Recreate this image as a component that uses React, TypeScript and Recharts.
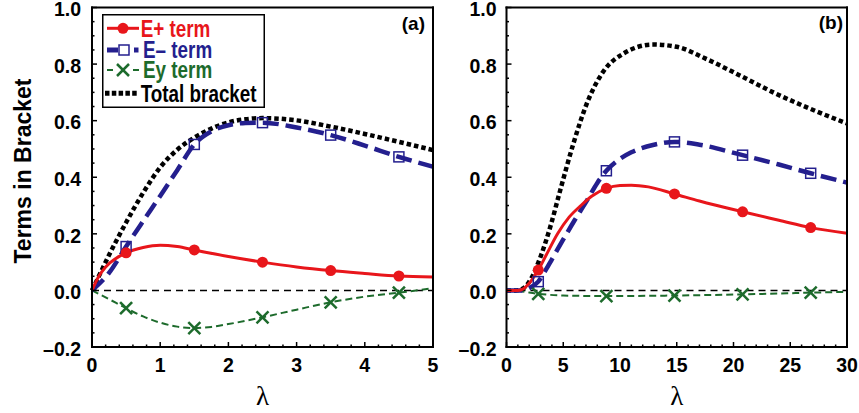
import React from 'react';
import { ComposedChart, Line, Scatter, XAxis, YAxis, ReferenceLine, Legend } from 'recharts';

type Pt = [number, number];

// panel (a), lambda 0..5
const aRedCurve: Pt[] = [[0, 0], [0.1, 0.05], [0.2, 0.083], [0.35, 0.113], [0.5, 0.133], [0.75, 0.152], [1.0, 0.16], [1.25, 0.155], [1.5, 0.143], [2.0, 0.12], [2.5, 0.1], [3.0, 0.083], [3.5, 0.07], [4.0, 0.06], [4.5, 0.051], [5.0, 0.047]];
const aBlueCurve: Pt[] = [[0, 0], [0.25, 0.062], [0.5, 0.155], [0.75, 0.245], [1.0, 0.334], [1.25, 0.425], [1.5, 0.516], [1.75, 0.562], [2.0, 0.584], [2.25, 0.592], [2.5, 0.593], [3.0, 0.576], [3.5, 0.549], [4.0, 0.512], [4.5, 0.472], [5.0, 0.437]];
const aTotalCurve: Pt[] = [[0, 0], [0.1, 0.05], [0.25, 0.125], [0.5, 0.24], [0.75, 0.345], [1.0, 0.435], [1.25, 0.497], [1.5, 0.54], [1.75, 0.572], [2.0, 0.594], [2.25, 0.605], [2.5, 0.609], [2.75, 0.607], [3.0, 0.601], [3.5, 0.579], [4.0, 0.553], [4.5, 0.525], [5.0, 0.496]];
const aGreenCurve: Pt[] = [[0, 0], [0.25, -0.031], [0.5, -0.063], [0.75, -0.092], [1.0, -0.114], [1.25, -0.128], [1.5, -0.133], [1.75, -0.129], [2.0, -0.119], [2.5, -0.095], [3.0, -0.068], [3.5, -0.042], [4.0, -0.022], [4.5, -0.008], [5.0, 0.008]];
const aRedMarks: Pt[] = [[0.5, 0.133], [1.5, 0.143], [2.5, 0.1], [3.5, 0.07], [4.5, 0.051]];
const aBlueMarks: Pt[] = [[0.5, 0.155], [1.5, 0.516], [2.5, 0.593], [3.5, 0.549], [4.5, 0.472]];
const aGreenMarks: Pt[] = [[0.5, -0.063], [1.5, -0.133], [2.5, -0.095], [3.5, -0.042], [4.5, -0.008]];

// panel (b), lambda 0..30
const bRedCurve: Pt[] = [[0, 0], [1, 0], [1.5, 0.006], [2, 0.025], [2.8, 0.072], [3.5, 0.125], [4.5, 0.2], [5.5, 0.258], [6.5, 0.298], [7.5, 0.333], [8.8, 0.361], [10, 0.371], [11, 0.372], [12.5, 0.366], [14.8, 0.341], [17, 0.316], [20.8, 0.278], [24, 0.248], [26.8, 0.222], [30, 0.202]];
const bBlueCurve: Pt[] = [[0, 0], [1.5, 0], [2, 0.008], [2.8, 0.031], [3.5, 0.075], [4.0, 0.11], [5.0, 0.18], [6.0, 0.248], [7.0, 0.312], [8.0, 0.38], [8.8, 0.423], [10, 0.465], [11, 0.488], [12.9, 0.514], [14.8, 0.525], [17, 0.515], [20.8, 0.478], [24, 0.445], [26.8, 0.414], [30, 0.381]];
const bTotalCurve: Pt[] = [[0, 0], [0.8, 0], [1.5, 0.008], [2.1, 0.037], [3, 0.119], [3.86, 0.225], [4.74, 0.355], [5.9, 0.52], [7.08, 0.661], [8.5, 0.772], [10.3, 0.837], [12.9, 0.869], [15, 0.861], [17.5, 0.82], [20.8, 0.755], [23.5, 0.7], [26.7, 0.643], [30, 0.59]];
const bGreenCurve: Pt[] = [[0, 0], [1, -0.002], [2.8, -0.012], [5, -0.018], [8.8, -0.02], [14.8, -0.018], [20.8, -0.014], [26.8, -0.008], [30, -0.005]];
const bRedMarks: Pt[] = [[2.8, 0.072], [8.8, 0.361], [14.8, 0.341], [20.8, 0.278], [26.8, 0.222]];
const bBlueMarks: Pt[] = [[2.8, 0.031], [8.8, 0.423], [14.8, 0.525], [20.8, 0.478], [26.8, 0.414]];
const bGreenMarks: Pt[] = [[2.8, -0.012], [8.8, -0.02], [14.8, -0.018], [20.8, -0.014], [26.8, -0.008]];

// ticks (minor + major)
const aXTicks = [0, 0.2, 0.4, 0.6, 0.8, 1, 1.2, 1.4, 1.6, 1.8, 2, 2.2, 2.4, 2.6, 2.8, 3, 3.2, 3.4, 3.6, 3.8, 4, 4.2, 4.4, 4.6, 4.8, 5];
const bXTicks = [0, 1, 2, 3, 4, 5, 6, 7, 8, 9, 10, 11, 12, 13, 14, 15, 16, 17, 18, 19, 20, 21, 22, 23, 24, 25, 26, 27, 28, 29, 30];
const yTicks = [-0.2, -0.15, -0.1, -0.05, 0, 0.05, 0.1, 0.15, 0.2, 0.25, 0.3, 0.35, 0.4, 0.45, 0.5, 0.55, 0.6, 0.65, 0.7, 0.75, 0.8, 0.85, 0.9, 0.95, 1.0];

const legendLabels = ['E+ term', 'E\u2013 term', 'Ey term', 'Total bracket'];

const RED = '#e8161b';
const BLUE = '#241f8e';
const GREEN = '#1d6b2c';
const SANS = "'Liberation Sans', Arial, sans-serif";

const pts = (a: Pt[]) => a.map(([x, y]) => ({ x, y }));

const isMajor = (v: number, step: number) => Math.abs(v / step - Math.round(v / step)) < 1e-6;

function FrameTick(props: any) {
  const { x, y, payload, side, step, showText, gap } = props;
  const v = payload.value;
  const major = isMajor(v, step);
  const len = major ? 5 : 2.5;
  let x2 = x;
  let y2 = y;
  if (side === 'bottom') y2 = y - len;
  if (side === 'top') y2 = y + len;
  if (side === 'left') x2 = x + len;
  if (side === 'right') x2 = x - len;
  const txt = { fontFamily: SANS, fontWeight: 700, fontSize: 19.5, fill: '#000' };
  return (
    <g>
      <line x1={x} y1={y} x2={x2} y2={y2} stroke="#000" strokeWidth={1.5} />
      {showText && major && side === 'bottom' && (
        <text x={x} y={y + 25} textAnchor="middle" {...txt}>{String(Math.round(v))}</text>
      )}
      {showText && major && side === 'left' && (
        <text x={x - gap} y={y} dy="0.45em" textAnchor="end" {...txt}>
          {v < 0 ? '\u2013' + Math.abs(v).toFixed(1) : v.toFixed(1)}
        </text>
      )}
    </g>
  );
}

const Dot = (color: string) => (p: any) => <circle cx={p.cx} cy={p.cy} r={5.5} fill={color} />;
const Box = (color: string) => (p: any) => (
  <rect x={p.cx - 5} y={p.cy - 5} width={10} height={10} fill="none" stroke={color} strokeWidth={1.5} />
);
const Cross = (color: string) => (p: any) => (
  <g stroke={color} strokeWidth={2.5}>
    <line x1={p.cx - 6} y1={p.cy - 6} x2={p.cx + 6} y2={p.cy + 6} />
    <line x1={p.cx - 6} y1={p.cy + 6} x2={p.cx + 6} y2={p.cy - 6} />
  </g>
);

function LegendBox() {
  const t = (x: number, y: number, color: string, s: string) => (
    <text transform={`translate(${x},${y}) scale(0.82,1)`} fontFamily={SANS} fontWeight={700} fontSize={23} fill={color}>
      {s}
    </text>
  );
  return (
    <svg width={163} height={94} style={{ display: 'block' }}>
      <rect x={0.75} y={0.75} width={161.5} height={92.5} fill="#fff" stroke="#000" strokeWidth={1.5} />
      <line x1={5} y1={14.3} x2={37} y2={14.3} stroke={RED} strokeWidth={3} />
      <circle cx={21} cy={14.3} r={5.5} fill={RED} />
      {t(38.7, 22.5, RED, legendLabels[0])}
      <line x1={5} y1={36} x2={16} y2={36} stroke={BLUE} strokeWidth={5} />
      <rect x={17} y={31} width={10} height={10} fill="none" stroke={BLUE} strokeWidth={1.5} />
      <line x1={32} y1={36} x2={36.5} y2={36} stroke={BLUE} strokeWidth={5} />
      {t(41, 44.2, BLUE, legendLabels[1])}
      <line x1={5} y1={56} x2={11} y2={56} stroke={GREEN} strokeWidth={2} />
      <line x1={15} y1={50} x2={27} y2={62} stroke={GREEN} strokeWidth={2.5} />
      <line x1={15} y1={62} x2={27} y2={50} stroke={GREEN} strokeWidth={2.5} />
      <line x1={31} y1={56} x2={37} y2={56} stroke={GREEN} strokeWidth={2} />
      {t(41, 64.2, GREEN, legendLabels[2])}
      <line x1={3} y1={79.3} x2={35} y2={79.3} stroke="#000" strokeWidth={5} strokeDasharray="4.5 2.3" />
      {t(38.7, 87.5, '#000', legendLabels[3])}
    </svg>
  );
}

interface PanelProps {
  left: number;
  width: number;
  yAxisWidth: number;
  marginRight: number;
  domainX: [number, number];
  xTicks: number[];
  xStep: number;
  red: Pt[];
  blue: Pt[];
  total: Pt[];
  green: Pt[];
  redMarks: Pt[];
  blueMarks: Pt[];
  greenMarks: Pt[];
  tag: string;
  tagX: number;
  tagY: number;
  labelGap: number;
  showTitle?: boolean;
  showLegend?: boolean;
}

function Panel(p: PanelProps) {
  const plotLeft = p.yAxisWidth;
  const plotRight = p.width - p.marginRight - 1;
  const lambdaX = (plotLeft + plotRight) / 2;
  const axisLine = { stroke: '#000', strokeWidth: 2, strokeLinecap: 'square' as const };
  return (
    <div style={{ position: 'absolute', left: p.left, top: 0 }}>
      <ComposedChart width={p.width} height={413} margin={{ top: 6.5, right: p.marginRight, bottom: 0, left: 0 }}>
        <XAxis
          xAxisId={0}
          dataKey="x"
          type="number"
          domain={p.domainX}
          ticks={p.xTicks}
          interval={0}
          height={66}
          tickSize={0}
          tickMargin={0}
          tickLine={false}
          axisLine={axisLine}
          tick={(t: any) => <FrameTick {...t} side="bottom" step={p.xStep} showText />}
          label={{
            content: () => (
              <text x={lambdaX} y={405} textAnchor="middle" fontFamily="'Liberation Serif', serif" fontSize={27} fill="#000">
                λ
              </text>
            ),
          }}
        />
        <XAxis
          xAxisId="t"
          orientation="top"
          dataKey="x"
          type="number"
          domain={p.domainX}
          ticks={p.xTicks}
          interval={0}
          height={1}
          tickSize={0}
          tickMargin={0}
          tickLine={false}
          axisLine={axisLine}
          tick={(t: any) => <FrameTick {...t} side="top" step={p.xStep} />}
          label={{
            content: () => (
              <text x={p.tagX} y={p.tagY} textAnchor="end" fontFamily={SANS} fontWeight={700} fontSize={19} fill="#000">
                {p.tag}
              </text>
            ),
          }}
        />
        <YAxis
          yAxisId={0}
          dataKey="y"
          type="number"
          domain={[-0.2, 1.0]}
          ticks={yTicks}
          interval={0}
          width={p.yAxisWidth}
          tickSize={0}
          tickMargin={0}
          tickLine={false}
          axisLine={axisLine}
          tick={(t: any) => <FrameTick {...t} side="left" step={0.2} showText gap={p.labelGap} />}
          label={
            p.showTitle
              ? {
                  content: () => (
                    <text
                      transform="translate(31,171) rotate(-90)"
                      textAnchor="middle"
                      fontFamily={SANS}
                      fontWeight={700}
                      fontSize={23}
                      fill="#000"
                    >
                      Terms in Bracket
                    </text>
                  ),
                }
              : undefined
          }
        />
        <YAxis
          yAxisId="r"
          orientation="right"
          type="number"
          domain={[-0.2, 1.0]}
          ticks={yTicks}
          interval={0}
          width={1}
          tickSize={0}
          tickMargin={0}
          tickLine={false}
          axisLine={axisLine}
          tick={(t: any) => <FrameTick {...t} side="right" step={0.2} />}
        />
        <ReferenceLine y={0} stroke="#000" strokeWidth={1.5} strokeDasharray="7 5" />
        <Line data={pts(p.green)} dataKey="y" type="monotone" stroke={GREEN} strokeWidth={2} strokeDasharray="7 4" dot={false} activeDot={false} isAnimationActive={false} />
        <Line data={pts(p.total)} dataKey="y" type="monotone" stroke="#000" strokeWidth={4.5} strokeDasharray="4.5 3" dot={false} activeDot={false} isAnimationActive={false} />
        <Line data={pts(p.blue)} dataKey="y" type="monotone" stroke={BLUE} strokeWidth={4.5} strokeDasharray="16 7" dot={false} activeDot={false} isAnimationActive={false} />
        <Line data={pts(p.red)} dataKey="y" type="monotone" stroke={RED} strokeWidth={3} dot={false} activeDot={false} isAnimationActive={false} />
        <Scatter data={pts(p.greenMarks)} dataKey="y" shape={Cross(GREEN)} isAnimationActive={false} />
        <Scatter data={pts(p.blueMarks)} dataKey="y" shape={Box(BLUE)} isAnimationActive={false} />
        <Scatter data={pts(p.redMarks)} dataKey="y" shape={Dot(RED)} isAnimationActive={false} />
        {p.showLegend && (
          <Legend
            layout="vertical"
            align="center"
            verticalAlign="middle"
            wrapperStyle={{ left: 102, top: 14, width: 163, height: 94 }}
            content={() => <LegendBox />}
          />
        )}
      </ComposedChart>
    </div>
  );
}

export default function App() {
  return (
    <div style={{ position: 'absolute', left: 0, top: 0, width: 859, height: 413, background: '#fff', overflow: 'hidden' }}>
      <Panel
        left={0}
        width={440}
        yAxisWidth={92}
        marginRight={6}
        domainX={[0, 5]}
        xTicks={aXTicks}
        xStep={1}
        red={aRedCurve}
        blue={aBlueCurve}
        total={aTotalCurve}
        green={aGreenCurve}
        redMarks={aRedMarks}
        blueMarks={aBlueMarks}
        greenMarks={aGreenMarks}
        tag="(a)"
        tagX={425}
        tagY={30}
        labelGap={11}
        showTitle
        showLegend
      />
      <Panel
        left={420}
        width={439}
        yAxisWidth={86.5}
        marginRight={11}
        domainX={[0, 30]}
        xTicks={bXTicks}
        xStep={5}
        red={bRedCurve}
        blue={bBlueCurve}
        total={bTotalCurve}
        green={bGreenCurve}
        redMarks={bRedMarks}
        blueMarks={bBlueMarks}
        greenMarks={bGreenMarks}
        tag="(b)"
        tagX={423}
        tagY={29}
        labelGap={10}
      />
    </div>
  );
}
